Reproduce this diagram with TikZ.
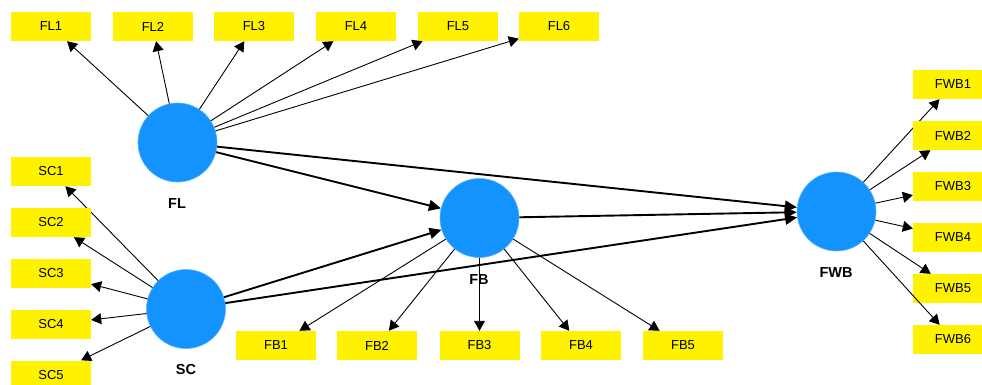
\documentclass[tikz,border=0pt]{standalone}
\usepackage{fontspec}
\setmainfont{Liberation Sans}
\usetikzlibrary{shapes,arrows.meta}
\definecolor{lvblue}{RGB}{20,147,255}
\tikzstyle{ind} = [draw=none, fill=yellow, minimum width=80pt, minimum height=29pt,
	inner sep=0pt, font=\fontsize{13}{15}\selectfont]
\tikzstyle{lv} = [circle, fill=lvblue, draw=lvblue!70!white, line width=0.6pt,
	minimum size=79pt, inner sep=0pt]
\tikzstyle{lvname} = [font=\bfseries\fontsize{14.5}{16}\selectfont]
\tikzstyle{load} = [-{Triangle[length=10pt,width=11pt]}, line width=0.9pt]
\tikzstyle{struct} = [-{Triangle[length=12pt,width=11pt]}, line width=1.9pt]

\begin{document}
\begin{tikzpicture}[x=1pt,y=-1pt]
			\useasboundingbox (0,0) rectangle (982,385);
			\clip (0,0) rectangle (982,385);
			
			\node [lv] (FL)  at (177.5,142.5) {};
			\node [lv] (SC)  at (186,309) {};
			\node [lv] (FB)  at (479.5,218) {};
			\node [lv] (FWB) at (836.5,211.5) {};
			
			\node [lvname] (FLname)  at (177,203.5) {FL};
			\node [lvname] (SCname)  at (186,370) {SC};
			\node [lvname] (FBname)  at (479,279.5) {FB};
			\node [lvname] (FWBname) at (836,272.5) {FWB};
			
			\foreach \i/\x in {1/51,2/153,3/254,4/356,5/458,6/559}{
				\node [ind] (FL\i) at (\x,26.5) {FL\i};
				\draw [load] (FL) -- (FL\i);
			}
			\foreach \i/\y in {1/171.5,2/222.5,3/273.5,4/324.5,5/375}{
				\node [ind] (SC\i) at (51,\y) {SC\i};
				\draw [load] (SC) -- (SC\i);
			}
			\foreach \i/\x in {1/276,2/377,3/479.5,4/581,5/683}{
				\node [ind] (FB\i) at (\x,345.5) {FB\i};
				\draw [load] (FB) -- (FB\i);
			}
			\foreach \i/\y in {1/84.5,2/135.5,3/186.5,4/237.5,5/288.5,6/339.5}{
				\node [ind] (FWB\i) at (953,\y) {FWB\i};
				\draw [load] (FWB) -- (FWB\i);
			}
			
			\draw [struct] (FL) -- (FB);
			\draw [struct] (FL) -- (FWB);
			\draw [struct] (SC) -- (FB);
			\draw [struct] (SC) -- (FWB);
			\draw [struct] (FB) -- (FWB);
			
\end{tikzpicture}
\end{document}
